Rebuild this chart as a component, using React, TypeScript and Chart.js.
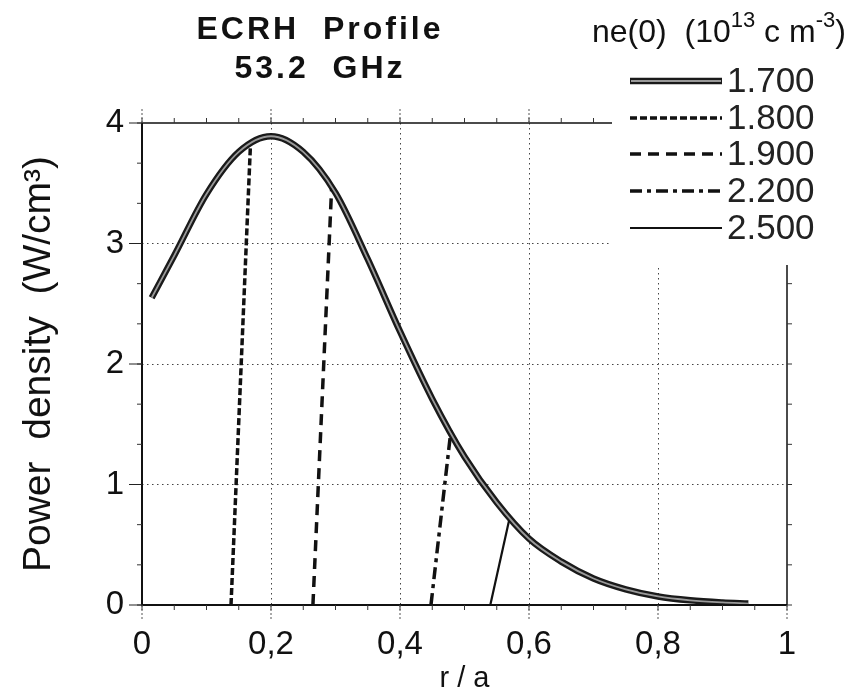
import React, { useEffect, useRef } from "react";
import { Chart, registerables } from "chart.js";

Chart.register(...registerables);

// ---- data ----
const rA = [0.015, 0.05, 0.1, 0.15, 0.2, 0.25, 0.3, 0.35, 0.4, 0.45, 0.5, 0.55, 0.6, 0.65, 0.7, 0.75, 0.8, 0.85, 0.9, 0.94];
const p170 = [2.55, 2.9, 3.41, 3.76, 3.89, 3.76, 3.42, 2.87, 2.27, 1.71, 1.23, 0.85, 0.55, 0.36, 0.22, 0.13, 0.071, 0.039, 0.021, 0.012];
const r180 = [0.138, 0.168];
const p180 = [0, 3.8];
const r190 = [0.265, 0.294];
const p190 = [0, 3.46];
const r220 = [0.448, 0.479];
const p220 = [0, 1.45];
const r250 = [0.54, 0.569];
const p250 = [0, 0.7];

const seriesLabels = ["1.700", "1.800", "1.900", "2.200", "2.500"];
const xTicks = [0, 0.2, 0.4, 0.6, 0.8, 1];
const yTicks = [0, 1, 2, 3, 4];
const xMinorStep = 0.05;
const yMinorStep = 1 / 3;

const FONT = "'Liberation Sans', Arial, Helvetica, sans-serif";
const INK = "#111";

// line styles for the five series (also used in the legend)
const styles = [
  { width: 6.5, dash: [] as number[], color: "#1a1a1a" },
  { width: 3.5, dash: [7, 3], color: "#111" },
  { width: 3.5, dash: [11, 7], color: "#111" },
  { width: 3.5, dash: [12, 5, 4, 5], color: "#111" },
  { width: 2.2, dash: [] as number[], color: "#111" },
];

const toPts = (xs: number[], ys: number[]) => xs.map((x, i) => ({ x, y: ys[i] }));

const LEGEND_LEFT = 612;
const LEGEND_BOTTOM = 265;

const decorPlugin = {
  id: "decor",
  afterDraw(chart: any) {
    const ctx = chart.ctx as CanvasRenderingContext2D;
    const xs = chart.scales.x;
    const ys = chart.scales.y;
    const { left, right, top, bottom } = chart.chartArea;
    ctx.save();

    // white legend area
    ctx.fillStyle = "#fff";
    ctx.fillRect(LEGEND_LEFT, 0, chart.width - LEGEND_LEFT, LEGEND_BOTTOM);

    // frame
    ctx.strokeStyle = INK;
    ctx.setLineDash([]);
    ctx.lineWidth = 2;
    ctx.beginPath();
    ctx.moveTo(left, top);
    ctx.lineTo(left, bottom);
    ctx.lineTo(right, bottom);
    ctx.stroke();
    ctx.lineWidth = 1.5;
    ctx.beginPath();
    ctx.moveTo(left, top);
    ctx.lineTo(LEGEND_LEFT, top);
    ctx.moveTo(right, LEGEND_BOTTOM);
    ctx.lineTo(right, bottom);
    ctx.stroke();

    // minor ticks
    ctx.lineWidth = 1;
    ctx.strokeStyle = "#333";
    ctx.beginPath();
    for (let v = 0; v <= 1.0001; v += xMinorStep) {
      const px = xs.getPixelForValue(v);
      ctx.moveTo(px, bottom);
      ctx.lineTo(px, bottom + 5);
      if (px < LEGEND_LEFT) {
        ctx.moveTo(px, top);
        ctx.lineTo(px, top - 5);
      }
    }
    for (let v = 0; v <= 4.0001; v += yMinorStep) {
      const py = ys.getPixelForValue(v);
      ctx.moveTo(left, py);
      ctx.lineTo(left - 5, py);
      if (py > LEGEND_BOTTOM) {
        ctx.moveTo(right, py);
        ctx.lineTo(right + 5, py);
      }
    }
    ctx.stroke();

    // major ticks
    ctx.strokeStyle = "#555";
    ctx.setLineDash([2, 2]);
    ctx.beginPath();
    xTicks.forEach((v) => {
      const px = xs.getPixelForValue(v);
      ctx.moveTo(px, bottom);
      ctx.lineTo(px, bottom + 15);
      if (px < LEGEND_LEFT) {
        ctx.moveTo(px, top);
        ctx.lineTo(px, top - 14);
      }
    });
    ctx.stroke();
    ctx.setLineDash([]);
    ctx.strokeStyle = "#222";
    ctx.beginPath();
    yTicks.forEach((v) => {
      const py = ys.getPixelForValue(v);
      ctx.moveTo(left, py);
      ctx.lineTo(left - 13, py);
    });
    ctx.stroke();

    // title
    ctx.fillStyle = INK;
    ctx.textAlign = "center";
    ctx.textBaseline = "alphabetic";
    (ctx as any).letterSpacing = "3px";
    ctx.font = `bold 32px ${FONT}`;
    ctx.fillText("ECRH  Profile", 320, 39);
    ctx.fillText("53.2  GHz", 320, 78);
    (ctx as any).letterSpacing = "0px";

    // legend title with superscripts
    ctx.textAlign = "left";
    let cx = 592;
    const base = 42;
    const big = `32px ${FONT}`;
    const small = `22px ${FONT}`;
    const parts: [string, string, number][] = [
      ["ne(0)  (10", big, base],
      ["13", small, base - 15],
      [" c m", big, base],
      ["-3", small, base - 15],
      [")", big, base],
    ];
    parts.forEach(([t, f, b]) => {
      ctx.font = f;
      ctx.fillText(t, cx, b);
      cx += ctx.measureText(t).width;
    });

    // legend entries
    const rowY = [81, 118, 154, 191, 228];
    seriesLabels.forEach((lab, i) => {
      const st = styles[i];
      const y = rowY[i];
      ctx.save();
      ctx.strokeStyle = st.color;
      ctx.lineWidth = st.width;
      ctx.setLineDash(st.dash);
      ctx.beginPath();
      ctx.moveTo(630, y);
      ctx.lineTo(722, y);
      ctx.stroke();
      if (i === 0) {
        ctx.strokeStyle = "#999";
        ctx.lineWidth = 1.8;
        ctx.beginPath();
        ctx.moveTo(631, y);
        ctx.lineTo(721, y);
        ctx.stroke();
      }
      ctx.restore();
      ctx.font = `35px ${FONT}`;
      ctx.fillStyle = "#222";
      ctx.textBaseline = "middle";
      ctx.fillText(lab, 727, y + 1);
    });

    ctx.restore();
  },
};

export default function App() {
  const ref = useRef<HTMLCanvasElement | null>(null);

  useEffect(() => {
    document.body.style.margin = "0";
    const canvas = ref.current;
    if (!canvas) return;
    const line = (data: any, i: number, extra: any = {}) => ({
      label: seriesLabels[i],
      data,
      borderColor: styles[i].color,
      borderWidth: styles[i].width,
      borderDash: styles[i].dash,
      pointRadius: 0,
      fill: false,
      ...extra,
    });
    const chart = new Chart(canvas, {
      type: "line",
      data: {
        datasets: [
          { ...line(toPts(rA, p170), 0), cubicInterpolationMode: "monotone", order: 3 },
          {
            label: "inner",
            data: toPts(rA, p170),
            borderColor: "#9a9a9a",
            borderWidth: 1.8,
            pointRadius: 0,
            cubicInterpolationMode: "monotone",
            order: 0,
          },
          line(toPts(r180, p180), 1, { order: 1 }),
          line(toPts(r190, p190), 2, { order: 1 }),
          line(toPts(r220, p220), 3, { order: 1 }),
          line(toPts(r250, p250), 4, { order: 1 }),
        ],
      },
      options: {
        responsive: false,
        animation: false,
        events: [],
        layout: { padding: { top: 123, right: 72, left: 0, bottom: 0 } },
        plugins: {
          legend: { display: false },
          tooltip: { enabled: false },
          title: { display: false },
        },
        scales: {
          x: {
            type: "linear",
            min: 0,
            max: 1,
            afterBuildTicks: (s: any) => {
              s.ticks = xTicks.map((v) => ({ value: v }));
            },
            afterFit: (s: any) => {
              s.height = 91;
            },
            ticks: {
              autoSkip: false,
              maxRotation: 0,
              padding: 20,
              color: INK,
              font: { family: FONT, size: 33 },
              callback: (v: any) => (v === 0 ? "0" : v === 1 ? "1" : Number(v).toFixed(1).replace(".", ",")),
            },
            grid: {
              drawTicks: false,
              lineWidth: 1,
              color: (c: any) => (c.tick && (c.tick.value === 0 || c.tick.value === 1) ? "rgba(0,0,0,0)" : "#444"),
            },
            border: { display: false, dash: [1.5, 3.5] },
            title: {
              display: true,
              text: "r / a",
              color: INK,
              font: { family: FONT, size: 29 },
              padding: { top: 0, bottom: 0 },
            },
          },
          y: {
            type: "linear",
            min: 0,
            max: 4,
            afterBuildTicks: (s: any) => {
              s.ticks = yTicks.map((v) => ({ value: v }));
            },
            afterFit: (s: any) => {
              s.width = 142;
            },
            ticks: {
              padding: 18,
              color: INK,
              font: { family: FONT, size: 33 },
              callback: (v: any) => String(v),
            },
            grid: {
              drawTicks: false,
              lineWidth: 1,
              color: (c: any) => (c.tick && (c.tick.value === 0 || c.tick.value === 4) ? "rgba(0,0,0,0)" : "#444"),
            },
            border: { display: false, dash: [1.5, 3.5] },
            title: {
              display: true,
              text: "Power  density  (W/cm³)",
              color: INK,
              font: { family: FONT, size: 39 },
              padding: { top: 16, bottom: 0 },
            },
          },
        },
      },
      plugins: [decorPlugin],
    } as any);
    return () => chart.destroy();
  }, []);

  return (
    <div style={{ width: 859, height: 696 }}>
      <canvas ref={ref} width={859} height={696} style={{ display: "block" }} />
    </div>
  );
}
